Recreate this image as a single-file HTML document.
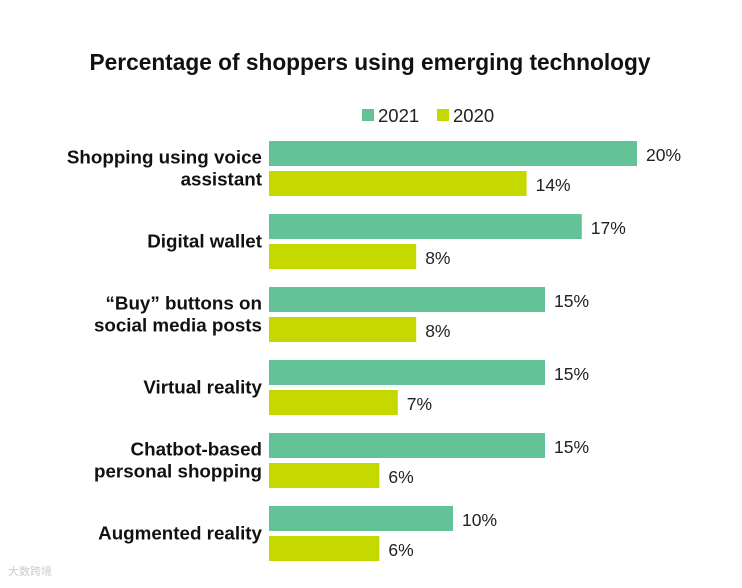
<!DOCTYPE html>
<html><head><meta charset="utf-8"><style>
body{margin:0;background:#fff;width:742px;height:583px;overflow:hidden;font-family:"Liberation Sans",sans-serif;}
svg text{font-family:"Liberation Sans",sans-serif;}
</style></head><body>
<svg id="chart" width="742" height="583">
<text x="370" y="70" text-anchor="middle" font-size="22.7" font-weight="bold" fill="#111">Percentage of shoppers using emerging technology</text>
<g>
<rect x="362" y="109" width="12" height="12" fill="#63c396"/>
<text x="378" y="122" font-size="18.5" fill="#222">2021</text>
<rect x="437" y="109" width="12" height="12" fill="#c5d800"/>
<text x="453" y="122" font-size="18.5" fill="#222">2020</text>
</g>
<g id="bars"></g>
<text x="8" y="575" font-size="11" fill="#ccc">大数跨境</text>
</svg>
<script>
const categories=[["Shopping using voice","assistant"],["Digital wallet"],["“Buy” buttons on","social media posts"],["Virtual reality"],["Chatbot-based","personal shopping"],["Augmented reality"]];
const values2021=[20,17,15,15,15,10];
const values2020=[14,8,8,7,6,6];
const NS="http://www.w3.org/2000/svg";
const g=document.getElementById('bars');
const x0=269,pxPer=18.4,top0=141,pitch=73,bh=25;
function xScale(v){return v*pxPer;}
function mk(tag,attrs){const e=document.createElementNS(NS,tag);for(const k in attrs)e.setAttribute(k,attrs[k]);g.appendChild(e);return e;}
categories.forEach((c,i)=>{
  const y=top0+i*pitch;
  const b1=mk('rect',{x:x0,y:y,width:xScale(values2021[i]),height:bh,fill:'#63c396'});
  
  
  const b2=mk('rect',{x:x0,y:y+30,width:xScale(values2020[i]),height:bh,fill:'#c5d800'});
  
  
  const t1=mk('text',{x:x0+xScale(values2021[i])+9,y:y+20,'font-size':17.5,fill:'#222'});
  t1.textContent=values2021[i]+'%';
  
  
  const t2=mk('text',{x:x0+xScale(values2020[i])+9,y:y+50,'font-size':17.5,fill:'#222'});
  t2.textContent=values2020[i]+'%';
  
  
  const cy=y+27.5;
  const start=c.length===1?cy+6:cy-5;
  c.forEach((line,j)=>{
    const l=mk('text',{x:262,y:start+j*22,'font-size':18.8,'font-weight':'bold','text-anchor':'end',fill:'#111'});
    l.textContent=line;
    
    
  });
});
</script>
</body></html>
